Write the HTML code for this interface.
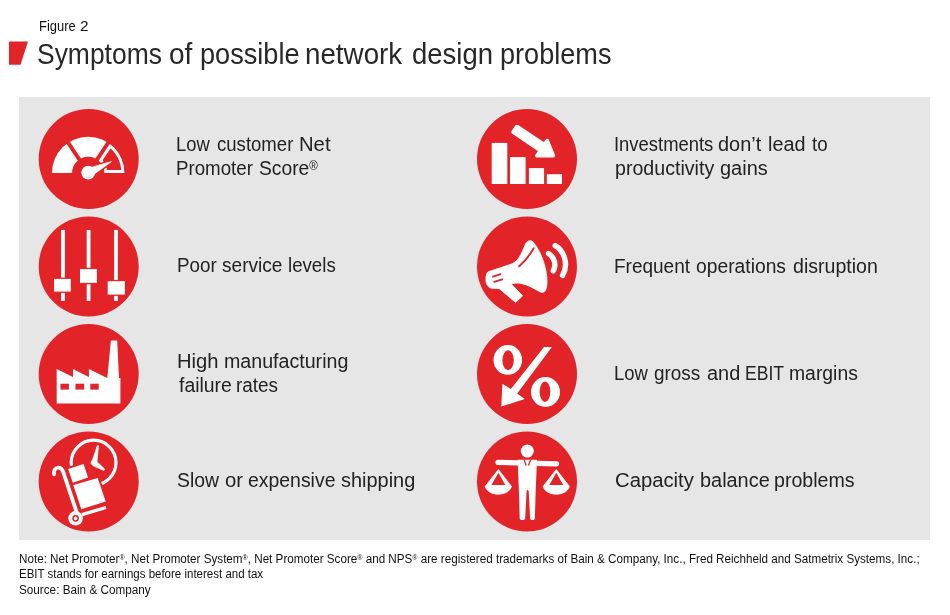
<!DOCTYPE html>
<html><head><meta charset="utf-8"><title>Symptoms of possible network design problems</title>
<style>
html,body{margin:0;padding:0;background:#fff;}
body{width:950px;height:615px;position:relative;overflow:hidden;font-family:"Liberation Sans",Arial,sans-serif;color:#111;}
.a{position:absolute;left:0;width:950px;height:30px;white-space:nowrap;filter:grayscale(1);}
.w{position:absolute;top:0;display:inline-block;transform-origin:0 0;white-space:pre;}
.panel{position:absolute;left:19px;top:97px;width:911px;height:443px;background:#e6e6e6;}
.ic{position:absolute;left:0;top:0;}
.mark{position:absolute;left:0;top:0;}
sup{font-size:0.6em;line-height:0;vertical-align:0;position:relative;top:-0.43em;}
</style></head>
<body>
<svg class="mark" width="40" height="70"><polygon points="9,41.5 28,41.5 20.5,64.7 9,64.7" fill="#e22428"/></svg>
<div class="panel"></div>
<svg class="ic" width="950" height="615" viewBox="0 0 950 615"><circle cx="88.7" cy="159.0" r="50" fill="#e22428"/><circle cx="527.0" cy="159.0" r="50" fill="#e22428"/><circle cx="88.7" cy="266.5" r="50" fill="#e22428"/><circle cx="527.0" cy="266.5" r="50" fill="#e22428"/><circle cx="88.7" cy="374.0" r="50" fill="#e22428"/><circle cx="527.0" cy="374.0" r="50" fill="#e22428"/><circle cx="88.7" cy="481.5" r="50" fill="#e22428"/><circle cx="527.0" cy="481.5" r="50" fill="#e22428"/><path d="M124.40,172.90 A36.2,36.2 0 0 0 52.00,172.90 L72.10,172.90 A16.1,16.1 0 0 1 104.30,172.90 Z" fill="#fff"/><line x1="88.2" y1="172.9" x2="109.89" y2="140.25" stroke="#e22428" stroke-width="4.0"/><line x1="88.2" y1="172.9" x2="66.51" y2="140.25" stroke="#e22428" stroke-width="4.0"/><path d="M107.06,169.90 L121.26,169.90 A33.20,33.20 0 0 0 110.53,148.33 L102.57,160.31 A19.10,19.10 0 0 1 107.06,169.90 Z" fill="#e22428"/><polygon points="93.10,174.96 89.59,167.77 111.80,161.40" fill="#e22428" stroke="#e22428" stroke-width="3.6" stroke-linejoin="round"/><polygon points="93.10,174.96 89.59,167.77 111.80,161.40" fill="#fff" stroke="#fff" stroke-width="0.6" stroke-linejoin="round"/><circle cx="88.2" cy="172.6" r="6.9" fill="#fff"/><rect x="491.7" y="142.9" width="15.60" height="41.10" fill="#fff"/><rect x="510" y="157.1" width="15.60" height="26.90" fill="#fff"/><rect x="528.9" y="168.1" width="15.20" height="15.90" fill="#fff"/><rect x="546.8" y="174.2" width="15.20" height="9.80" fill="#fff"/><polygon points="514.03,131.93 517.09,127.37 543.03,144.72 539.97,149.28" fill="#fff" stroke="#fff" stroke-width="5.2" stroke-linejoin="round"/><polygon points="547.2,140.6 553.4,155.7 536.9,155.7" fill="#fff" stroke="#fff" stroke-width="3.6" stroke-linejoin="round"/><rect x="61.1" y="229.9" width="3.8" height="71" fill="#fff"/><rect x="52.7" y="277.59999999999997" width="19.40" height="15.30" fill="#e22428"/><rect x="54" y="278.9" width="16.80" height="12.70" fill="#fff"/><rect x="86.69999999999999" y="229.9" width="3.8" height="71" fill="#fff"/><rect x="78.7" y="267.8" width="19.50" height="16.40" fill="#e22428"/><rect x="80" y="269.1" width="16.90" height="13.80" fill="#fff"/><rect x="114.1" y="229.9" width="3.8" height="71" fill="#fff"/><rect x="106.4" y="279.9" width="19.80" height="16.00" fill="#e22428"/><rect x="107.7" y="281.2" width="17.20" height="13.40" fill="#fff"/><path d="M488.8,271.6 L510.5,264.4 C513.5,263.4 516.3,261.5 518.6,258.3 C521.5,254 523.5,248.5 525.8,243.6 C527,240.8 530.6,239.8 532.6,241.6 C538.5,248 543.5,259 545.9,270.6 C547.4,278.5 547.5,286 545.6,290 C544.6,292.6 542,293 539.8,291.8 C533.8,288.2 527.5,284.6 520.7,283.4 C517,282.8 514,283.2 511.3,284.1 L522.6,295.8 L515.6,302.4 L499.3,288.7 L492,288.2 C487.8,287.8 485.8,283.5 485.9,279.4 C486,275.5 486.6,272.4 488.8,271.6 Z" fill="#fff" stroke="#fff" stroke-width="0.8" stroke-linejoin="round"/><line x1="493" y1="276.7" x2="500.6" y2="274.1" stroke="#e22428" stroke-width="1.8" stroke-linecap="round"/><line x1="494.2" y1="281.8" x2="502.3" y2="279.3" stroke="#e22428" stroke-width="1.8" stroke-linecap="round"/><path d="M519.2,266.3 C524,262 529.5,256 533.6,248.2" fill="none" stroke="#e22428" stroke-width="1.9" stroke-linecap="round"/><path d="M548.5,253.5 C553.5,256.5 557,264 553.3,270.8" fill="none" stroke="#fff" stroke-width="5.4" stroke-linecap="round"/><path d="M555.2,245.6 C563,250 569.5,263 562.6,275.4" fill="none" stroke="#fff" stroke-width="5.4" stroke-linecap="round"/><polygon points="56.70,369.10 73.00,377.10 73.00,369.10 88.90,377.10 88.90,369.10 107.30,378.00 110.90,340.50 117.20,340.50 119.00,378.00 120.40,378.00 120.40,403.60 56.70,403.60" fill="#fff"/><rect x="60.5" y="383.7" width="8.40" height="5.9" fill="#e22428"/><rect x="75.5" y="383.7" width="8.60" height="5.9" fill="#e22428"/><rect x="90.3" y="383.7" width="8.40" height="5.9" fill="#e22428"/><polygon points="544,347.1 551.9,347.1 517.2,393.5 524.8,399 501.3,406.6 502.4,383.8 510.9,389" fill="#fff"/><path fill="#fff" fill-rule="evenodd" d="M493.5,359.9 a14.3,14.8 0 1,0 28.6,0 a14.3,14.8 0 1,0 -28.6,0 Z M502.4,360.2 a5.7,10 0 1,0 11.4,0 a5.7,10 0 1,0 -11.4,0 Z"/><path fill="#fff" fill-rule="evenodd" d="M531,392 a14.5,15 0 1,0 29,0 a14.5,15 0 1,0 -29,0 Z M539.7,391.8 a5.3,10.2 0 1,0 10.6,0 a5.3,10.2 0 1,0 -10.6,0 Z"/><circle cx="93.6" cy="462.6" r="22.4" fill="none" stroke="#fff" stroke-width="3.2"/><polygon points="97.4,445.5 98.5,445.7 97.0,461.8 104.6,469.1 103.9,470.5 93.1,465.8 90.8,463.1 92.6,459.6 95.4,451.5" fill="#fff" stroke="#fff" stroke-width="0.7" stroke-linejoin="round"/><polygon points="68.2,469 83.6,463.9 88.1,477.6 72.8,482.7" fill="#e22428" stroke="#e22428" stroke-width="4" stroke-linejoin="round"/><polygon points="73.3,485 97.8,478.1 105.7,501.6 81.3,509.2" fill="#e22428" stroke="#e22428" stroke-width="4" stroke-linejoin="round"/><polygon points="68.2,469 83.6,463.9 88.1,477.6 72.8,482.7" fill="#fff"/><polygon points="73.3,485 97.8,478.1 105.7,501.6 81.3,509.2" fill="#fff"/><path d="M54,474.3 C53.4,470 55.8,467.6 58.3,467.6 C60.6,467.6 62.2,469.2 63.1,471.6 L76.4,511.5" fill="none" stroke="#fff" stroke-width="3.8" stroke-linecap="round"/><line x1="82" y1="514.6" x2="106" y2="507.5" stroke="#fff" stroke-width="3.3" stroke-linecap="butt"/><circle cx="75.6" cy="518.3" r="7.3" fill="#fff"/><circle cx="75.6" cy="518.3" r="2.6" fill="none" stroke="#e22428" stroke-width="1.5"/><circle cx="527.3" cy="451.1" r="6.5" fill="#fff"/><line x1="498" y1="462.4" x2="556.6" y2="463.8" stroke="#fff" stroke-width="5.2" stroke-linecap="round"/><path d="M517.6,459.7 L537,459.7 L535.6,493.2 L534.9,518.6 C534.8,520.6 530.3,520.6 530.1,518.6 L528.7,491.1 L527.6,489.7 L526.6,491.1 L525.2,518.6 C525.1,520.6 519.8,520.6 519.7,518.6 L519,493.2 Z" fill="#fff"/><path d="M524,459.4 L526.2,465.6 M530.8,459.4 L528.5,465.6" stroke="#e22428" stroke-width="1.3" fill="none"/><path d="M498.4,469.6 L485.2,486.4 C487.0,492 493.0,494.2 498.4,494.2 C503.79999999999995,494.2 509.79999999999995,492 511.5,486.4 Z" fill="#fff" stroke="#fff" stroke-width="0.8" stroke-linejoin="round"/><polygon points="498.4,472.8 491.4,485.1 505.29999999999995,485.1" fill="#e22428"/><path d="M556.3,469.6 L543.0999999999999,486.4 C544.9,492 550.9,494.2 556.3,494.2 C561.6999999999999,494.2 567.6999999999999,492 569.4,486.4 Z" fill="#fff" stroke="#fff" stroke-width="0.8" stroke-linejoin="round"/><polygon points="556.3,472.8 549.3,485.1 563.1999999999999,485.1" fill="#e22428"/></svg>
<div class="a" style="top:18.84px;font-size:14.6px;line-height:14.6px;color:#111"><span class="w" style="left:38.72px;transform:scaleX(0.8870)">Figure </span><span class="w" style="left:80.44px;transform:scaleX(1.0535)">2</span></div>
<div class="a" style="top:39.75px;font-size:29px;line-height:29px;color:#282828"><span class="w" style="left:36.77px;transform:scaleX(0.9120)">Symptoms </span><span class="w" style="left:169.46px;transform:scaleX(0.9668)">of </span><span class="w" style="left:200.49px;transform:scaleX(0.9356)">possible </span><span class="w" style="left:305.36px;transform:scaleX(0.9571)">network </span><span class="w" style="left:411.55px;transform:scaleX(0.9476)">design </span><span class="w" style="left:499.66px;transform:scaleX(0.9348)">problems</span></div>
<div class="a" style="top:133.97px;font-size:20px;line-height:20px;color:#222"><span class="w" style="left:176.18px;transform:scaleX(0.9188)">Low </span><span class="w" style="left:216.58px;transform:scaleX(0.9282)">customer </span><span class="w" style="left:299.15px;transform:scaleX(1.0123)">Net</span></div>
<div class="a" style="top:157.67px;font-size:20px;line-height:20px;color:#222"><span class="w" style="left:176.12px;transform:scaleX(0.9354)">Promoter </span><span class="w" style="left:258.85px;transform:scaleX(0.9629)">Score<sup>®</sup></span></div>
<div class="a" style="top:134.07px;font-size:20px;line-height:20px;color:#222"><span class="w" style="left:613.64px;transform:scaleX(0.9213)">Investments </span><span class="w" style="left:718.14px;transform:scaleX(0.9959)">don’t </span><span class="w" style="left:767.88px;transform:scaleX(0.9905)">lead </span><span class="w" style="left:812.12px;transform:scaleX(0.9352)">to</span></div>
<div class="a" style="top:157.67px;font-size:20px;line-height:20px;color:#222"><span class="w" style="left:615.33px;transform:scaleX(0.9807)">productivity </span><span class="w" style="left:720.39px;transform:scaleX(0.9984)">gains</span></div>
<div class="a" style="top:255.27px;font-size:20px;line-height:20px;color:#222"><span class="w" style="left:176.66px;transform:scaleX(0.9383)">Poor </span><span class="w" style="left:222.48px;transform:scaleX(0.9547)">service </span><span class="w" style="left:288.40px;transform:scaleX(0.9333)">levels</span></div>
<div class="a" style="top:255.57px;font-size:20px;line-height:20px;color:#222"><span class="w" style="left:614.02px;transform:scaleX(0.9495)">Frequent </span><span class="w" style="left:695.72px;transform:scaleX(0.9635)">operations </span><span class="w" style="left:792.72px;transform:scaleX(0.9785)">disruption</span></div>
<div class="a" style="top:351.17px;font-size:20px;line-height:20px;color:#222"><span class="w" style="left:176.86px;transform:scaleX(1.0093)">High </span><span class="w" style="left:224.35px;transform:scaleX(0.9810)">manufacturing</span></div>
<div class="a" style="top:374.77px;font-size:20px;line-height:20px;color:#222"><span class="w" style="left:178.79px;transform:scaleX(0.9702)">failure </span><span class="w" style="left:236.26px;transform:scaleX(0.9461)">rates</span></div>
<div class="a" style="top:362.87px;font-size:20px;line-height:20px;color:#222"><span class="w" style="left:613.91px;transform:scaleX(0.9225)">Low </span><span class="w" style="left:654.31px;transform:scaleX(0.9467)">gross </span><span class="w" style="left:706.75px;transform:scaleX(0.9967)">and </span><span class="w" style="left:744.72px;transform:scaleX(0.8773)">EBIT </span><span class="w" style="left:789.39px;transform:scaleX(0.9678)">margins</span></div>
<div class="a" style="top:470.47px;font-size:20px;line-height:20px;color:#222"><span class="w" style="left:176.64px;transform:scaleX(0.9686)">Slow </span><span class="w" style="left:225.06px;transform:scaleX(1.0153)">or </span><span class="w" style="left:248.30px;transform:scaleX(0.9710)">expensive </span><span class="w" style="left:340.54px;transform:scaleX(0.9962)">shipping</span></div>
<div class="a" style="top:470.47px;font-size:20px;line-height:20px;color:#222"><span class="w" style="left:615.23px;transform:scaleX(1.0134)">Capacity </span><span class="w" style="left:699.78px;transform:scaleX(0.9949)">balance </span><span class="w" style="left:774.40px;transform:scaleX(0.9804)">problems</span></div>
<div class="a" style="top:552.84px;font-size:12px;line-height:12px;color:#111"><span class="w" style="left:19.03px;transform:scaleX(0.9719)">Note: Net Promoter<sup>®</sup>, Net Promoter System<sup>®</sup>, Net Promoter Score<sup>®</sup> and NPS<sup>®</sup> are registered trademarks of Bain &amp; Company, Inc., Fred Reichheld and Satmetrix Systems, Inc.;</span></div>
<div class="a" style="top:567.74px;font-size:12px;line-height:12px;color:#111"><span class="w" style="left:19.04px;transform:scaleX(0.9589)">EBIT stands for earnings before interest and tax</span></div>
<div class="a" style="top:583.64px;font-size:12px;line-height:12px;color:#111"><span class="w" style="left:19.02px;transform:scaleX(0.9769)">Source: Bain &amp; Company</span></div>

</body></html>
